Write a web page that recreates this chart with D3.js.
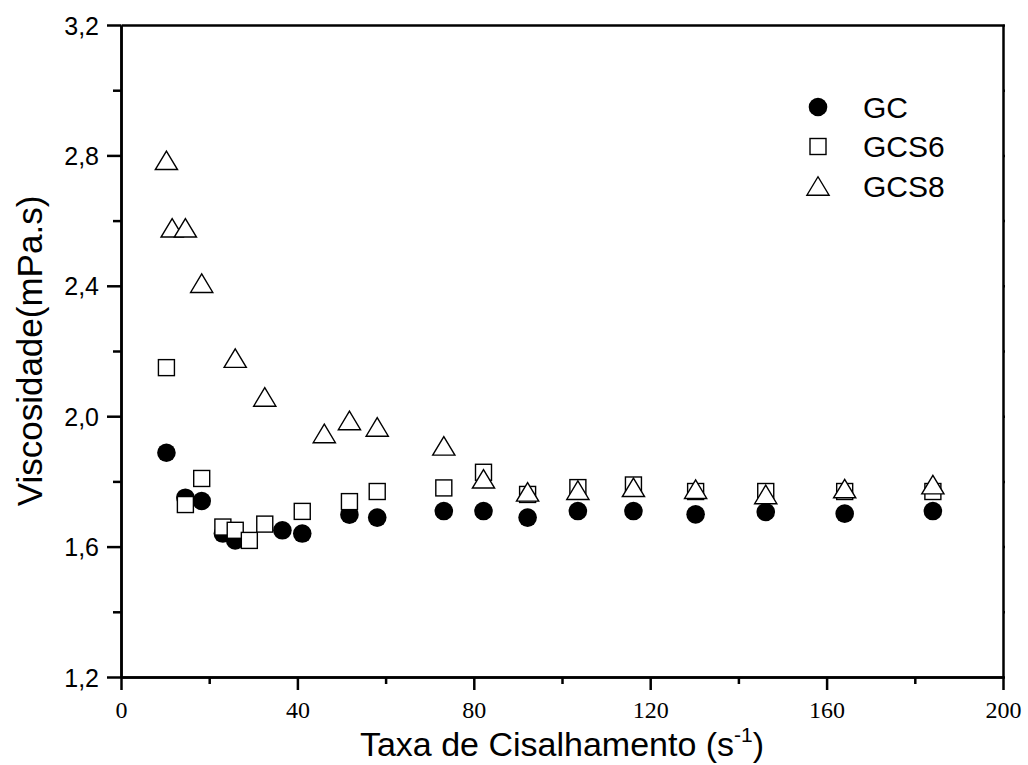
<!DOCTYPE html>
<html>
<head>
<meta charset="utf-8">
<script src="https://cdn.jsdelivr.net/npm/d3@7"></script>
<style>
  body { margin: 0; background: #fff; }
  svg { display: block; }
</style>
</head>
<body>
<div id="chart"></div>
<script>
// shear rate (s-1) and viscosity (mPa.s)
const gcRate = [10.3, 14.6, 18.3, 23.1, 25.9, 36.6, 41.1, 51.8, 58.1, 73.2, 82.2, 92.2, 103.6, 116.2, 130.3, 146.2, 164.1, 184.1]
const gcVisc = [1.888, 1.750, 1.740, 1.640, 1.619, 1.650, 1.640, 1.698, 1.689, 1.709, 1.709, 1.689, 1.709, 1.709, 1.699, 1.706, 1.701, 1.709]

const gcs6Rate = [10.3, 14.6, 18.3, 23.1, 25.9, 29.1, 32.6, 41.1, 51.8, 58.1, 73.2, 82.2, 92.2, 103.6, 116.2, 130.3, 146.2, 164.1, 184.1]
const gcs6Visc = [2.149, 1.729, 1.809, 1.660, 1.650, 1.619, 1.669, 1.708, 1.738, 1.769, 1.780, 1.828, 1.760, 1.781, 1.789, 1.769, 1.769, 1.769, 1.769]

const gcs8Rate = [10.3, 11.6, 14.6, 18.3, 25.9, 32.6, 46.1, 51.8, 58.1, 73.2, 82.2, 92.2, 103.6, 116.2, 130.3, 146.2, 164.1, 184.1]
const gcs8Visc = [2.785, 2.578, 2.578, 2.408, 2.178, 2.059, 1.947, 1.987, 1.967, 1.909, 1.808, 1.768, 1.773, 1.782, 1.776, 1.760, 1.778, 1.790]

const seriesNames = ["GC", "GCS6", "GCS8"]
const xMajor = [0, 40, 80, 120, 160, 200]
const xMinor = [20, 60, 100, 140, 180]
const yMajor = [1.2, 1.6, 2.0, 2.4, 2.8, 3.2]
const yMinor = [1.4, 1.8, 2.2, 2.6, 3.0]

const margin = { top: 25, right: 25, bottom: 88, left: 121 }
const width = 1028 - margin.left - margin.right
const height = 765 - margin.top - margin.bottom

const svg = d3.select("#chart").append("svg")
    .attr("width", 1028)
    .attr("height", 765)
  .append("g")
    .attr("transform", "translate(" + margin.left + "," + margin.top + ")")

const xPositionScale = d3.scaleLinear().domain([0, 200]).range([0, width])
const yPositionScale = d3.scaleLinear().domain([1.2, 3.2]).range([height, 0])

const commaFormat = d => d3.format(".1f")(d).replace(".", ",")

// axes
const xAxis = svg.append("g")
    .attr("transform", "translate(0," + height + ")")
    .call(d3.axisBottom(xPositionScale).tickValues(xMajor).tickSize(13).tickSizeOuter(0).tickFormat(d3.format("d")))
xAxis.selectAll("text")
    .attr("y", 41).attr("dy", 0)
    .style("font-family", "'Liberation Serif', 'Times New Roman', serif")
    .style("font-size", "24px")
svg.append("g")
    .attr("transform", "translate(0," + height + ")")
    .call(d3.axisBottom(xPositionScale).tickValues(xMinor).tickSize(7).tickSizeOuter(0).tickFormat(""))

const yAxis = svg.append("g")
    .call(d3.axisLeft(yPositionScale).tickValues(yMajor).tickSize(14).tickSizeOuter(0).tickFormat(commaFormat))
yAxis.selectAll("text")
    .attr("x", -22).attr("dy", "0.36em")
    .style("font-family", "'Liberation Sans', Arial, sans-serif")
    .style("font-size", "25px")
svg.append("g")
    .call(d3.axisLeft(yPositionScale).tickValues(yMinor).tickSize(8).tickSizeOuter(0).tickFormat(""))

// top and right frame with tiny ticks
svg.append("g")
    .attr("transform", "translate(" + width + ",0)")
    .call(d3.axisRight(yPositionScale).tickValues(yMajor.concat(yMinor)).tickSize(2).tickSizeOuter(0).tickFormat(""))
svg.append("g")
    .call(d3.axisTop(xPositionScale).tickValues(xMajor.concat(xMinor)).tickSize(0).tickSizeOuter(0).tickFormat(""))

svg.selectAll(".domain").attr("stroke", "black").attr("stroke-width", 2.5)
svg.selectAll(".tick line").attr("stroke", "black").attr("stroke-width", 2.5)

// axis titles
svg.append("text")
    .attr("transform", "translate(" + (42 - margin.left) + "," + (height / 2) + ") rotate(-90)")
    .attr("text-anchor", "middle")
    .style("font-family", "'Liberation Sans', Arial, sans-serif")
    .style("font-size", "35px")
    .text("Viscosidade(mPa.s)")

const xTitle = svg.append("text")
    .attr("x", width / 2)
    .attr("y", 731)
    .attr("text-anchor", "middle")
    .style("font-family", "'Liberation Sans', Arial, sans-serif")
    .style("font-size", "34px")
xTitle.append("tspan").text("Taxa de Cisalhamento (s")
xTitle.append("tspan").attr("dy", -14).style("font-size", "21px").text("-1")
xTitle.append("tspan").attr("dy", 14).text(")")

// markers
const triangle = s => "M0," + (-s * 0.5) + "L" + (s * 0.6) + "," + (s * 0.5) + "L" + (-s * 0.6) + "," + (s * 0.5) + "Z"

function drawSeries(rates, visc, name) {
  const pts = rates.map((r, i) => ({ rate: r, visc: visc[i] }))
  const g = svg.append("g").attr("class", "series-" + name)
  if (name === "GC") {
    g.selectAll("circle").data(pts).enter().append("circle")
      .attr("cx", d => xPositionScale(d.rate))
      .attr("cy", d => yPositionScale(d.visc))
      .attr("r", 9.3)
      .attr("fill", "black")
  } else if (name === "GCS6") {
    g.selectAll("rect").data(pts).enter().append("rect")
      .attr("x", d => xPositionScale(d.rate) - 8)
      .attr("y", d => yPositionScale(d.visc) - 8)
      .attr("width", 16).attr("height", 16)
      .attr("fill", "white").attr("stroke", "black").attr("stroke-width", 1.4)
  } else {
    g.selectAll("path").data(pts).enter().append("path")
      .attr("transform", d => "translate(" + xPositionScale(d.rate) + "," + yPositionScale(d.visc) + ")")
      .attr("d", triangle(18.5))
      .attr("fill", "white").attr("stroke", "black").attr("stroke-width", 1.4)
  }
}

drawSeries(gcRate, gcVisc, "GC")
drawSeries(gcs6Rate, gcs6Visc, "GCS6")
drawSeries(gcs8Rate, gcs8Visc, "GCS8")

// legend
const legend = svg.append("g").attr("transform", "translate(" + (818 - margin.left) + "," + (107 - margin.top) + ")")
seriesNames.forEach((name, i) => {
  const row = legend.append("g").attr("transform", "translate(0," + i * 39.5 + ")")
  if (name === "GC") {
    row.append("circle").attr("r", 9.3).attr("fill", "black")
  } else if (name === "GCS6") {
    row.append("rect").attr("x", -8).attr("y", -8).attr("width", 16).attr("height", 16)
      .attr("fill", "white").attr("stroke", "black").attr("stroke-width", 1.4)
  } else {
    row.append("path").attr("d", triangle(18.5))
      .attr("fill", "white").attr("stroke", "black").attr("stroke-width", 1.4)
  }
  row.append("text")
    .attr("x", 45)
    .attr("dy", "0.36em")
    .style("font-family", "'Liberation Sans', Arial, sans-serif")
    .style("font-size", "30px")
    .text(name)
})
</script>
</body>
</html>
